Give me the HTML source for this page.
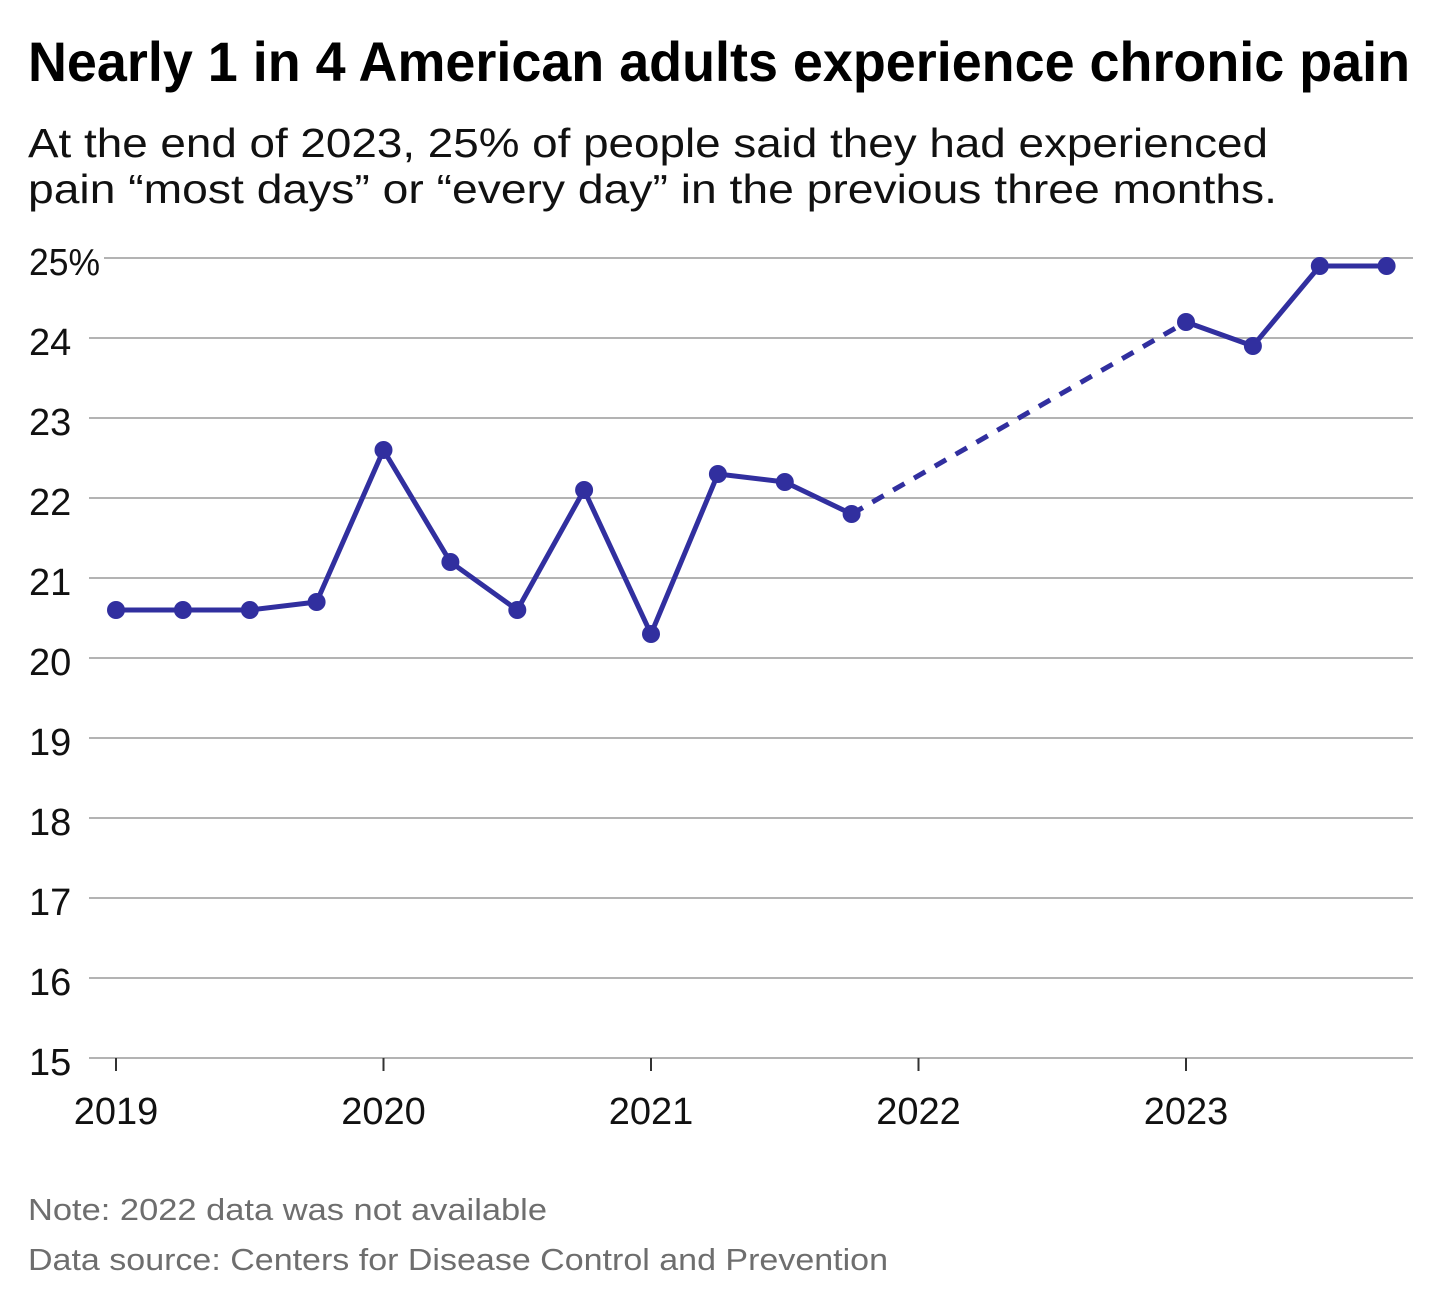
<!DOCTYPE html>
<html>
<head>
<meta charset="utf-8">
<style>
html,body{margin:0;padding:0;background:#fff;}
svg{display:block;}
text{font-family:"Liberation Sans",Arial,sans-serif;}
</style>
</head>
<body>
<svg width="1440" height="1309" viewBox="0 0 1440 1309" xmlns="http://www.w3.org/2000/svg">
<rect width="1440" height="1309" fill="#fff"/>
<!-- Title -->
<text x="28" y="81" font-size="56" font-weight="bold" fill="#000" textLength="1382" lengthAdjust="spacingAndGlyphs">Nearly 1 in 4 American adults experience chronic pain</text>
<!-- Subtitle -->
<text x="28" y="157" font-size="41" fill="#111" textLength="1240" lengthAdjust="spacingAndGlyphs">At the end of 2023, 25% of people said they had experienced</text>
<text x="28" y="203" font-size="41" fill="#111" textLength="1249" lengthAdjust="spacingAndGlyphs">pain “most days” or “every day” in the previous three months.</text>

<!-- Gridlines -->
<g stroke="#b3b3b3" stroke-width="2">
<line x1="104" y1="258" x2="1413" y2="258"/>
<line x1="89" y1="338" x2="1413" y2="338"/>
<line x1="89" y1="418" x2="1413" y2="418"/>
<line x1="89" y1="498" x2="1413" y2="498"/>
<line x1="89" y1="578" x2="1413" y2="578"/>
<line x1="89" y1="658" x2="1413" y2="658"/>
<line x1="89" y1="738" x2="1413" y2="738"/>
<line x1="89" y1="818" x2="1413" y2="818"/>
<line x1="89" y1="898" x2="1413" y2="898"/>
<line x1="89" y1="978" x2="1413" y2="978"/>
<line x1="89" y1="1058" x2="1413" y2="1058"/>
</g>

<!-- Y labels -->
<g font-size="38" fill="#111">
<text x="29" y="275" textLength="71" lengthAdjust="spacingAndGlyphs">25%</text>
<text x="29" y="355">24</text>
<text x="29" y="435">23</text>
<text x="29" y="515">22</text>
<text x="29" y="595">21</text>
<text x="29" y="675">20</text>
<text x="29" y="755">19</text>
<text x="29" y="835">18</text>
<text x="29" y="915">17</text>
<text x="29" y="995">16</text>
<text x="29" y="1075">15</text>
</g>

<!-- X ticks -->
<g stroke="#333" stroke-width="2">
<line x1="116" y1="1058" x2="116" y2="1071"/>
<line x1="383.5" y1="1058" x2="383.5" y2="1071"/>
<line x1="651" y1="1058" x2="651" y2="1071"/>
<line x1="918.5" y1="1058" x2="918.5" y2="1071"/>
<line x1="1186" y1="1058" x2="1186" y2="1071"/>
</g>
<g font-size="38" fill="#111" text-anchor="middle">
<text x="116" y="1124">2019</text>
<text x="383.5" y="1124">2020</text>
<text x="651" y="1124">2021</text>
<text x="918.5" y="1124">2022</text>
<text x="1186" y="1124">2023</text>
</g>

<!-- Series -->
<g fill="none" stroke="#312f9f" stroke-width="5" stroke-linejoin="round" stroke-linecap="round">
<polyline points="116,610 182.9,610 249.8,610 316.6,602 383.5,450 450.4,562 517.3,610 584.1,490 651,634 717.9,474 784.8,482 851.6,514"/>
<line x1="851.6" y1="514" x2="1186" y2="322" stroke-dasharray="13 11" stroke-linecap="butt"/>
<polyline points="1186,322 1252.9,346 1319.8,266 1386.6,266"/>
</g>
<g fill="#312f9f">
<circle cx="116" cy="610" r="9"/>
<circle cx="182.9" cy="610" r="9"/>
<circle cx="249.8" cy="610" r="9"/>
<circle cx="316.6" cy="602" r="9"/>
<circle cx="383.5" cy="450" r="9"/>
<circle cx="450.4" cy="562" r="9"/>
<circle cx="517.3" cy="610" r="9"/>
<circle cx="584.1" cy="490" r="9"/>
<circle cx="651" cy="634" r="9"/>
<circle cx="717.9" cy="474" r="9"/>
<circle cx="784.8" cy="482" r="9"/>
<circle cx="851.6" cy="514" r="9"/>
<circle cx="1186" cy="322" r="9"/>
<circle cx="1252.9" cy="346" r="9"/>
<circle cx="1319.8" cy="266" r="9"/>
<circle cx="1386.6" cy="266" r="9"/>
</g>

<!-- Notes -->
<text x="28" y="1220" font-size="31" fill="#6e6e6e" textLength="519" lengthAdjust="spacingAndGlyphs">Note: 2022 data was not available</text>
<text x="28" y="1270" font-size="31" fill="#6e6e6e" textLength="860" lengthAdjust="spacingAndGlyphs">Data source: Centers for Disease Control and Prevention</text>
</svg>
</body>
</html>
